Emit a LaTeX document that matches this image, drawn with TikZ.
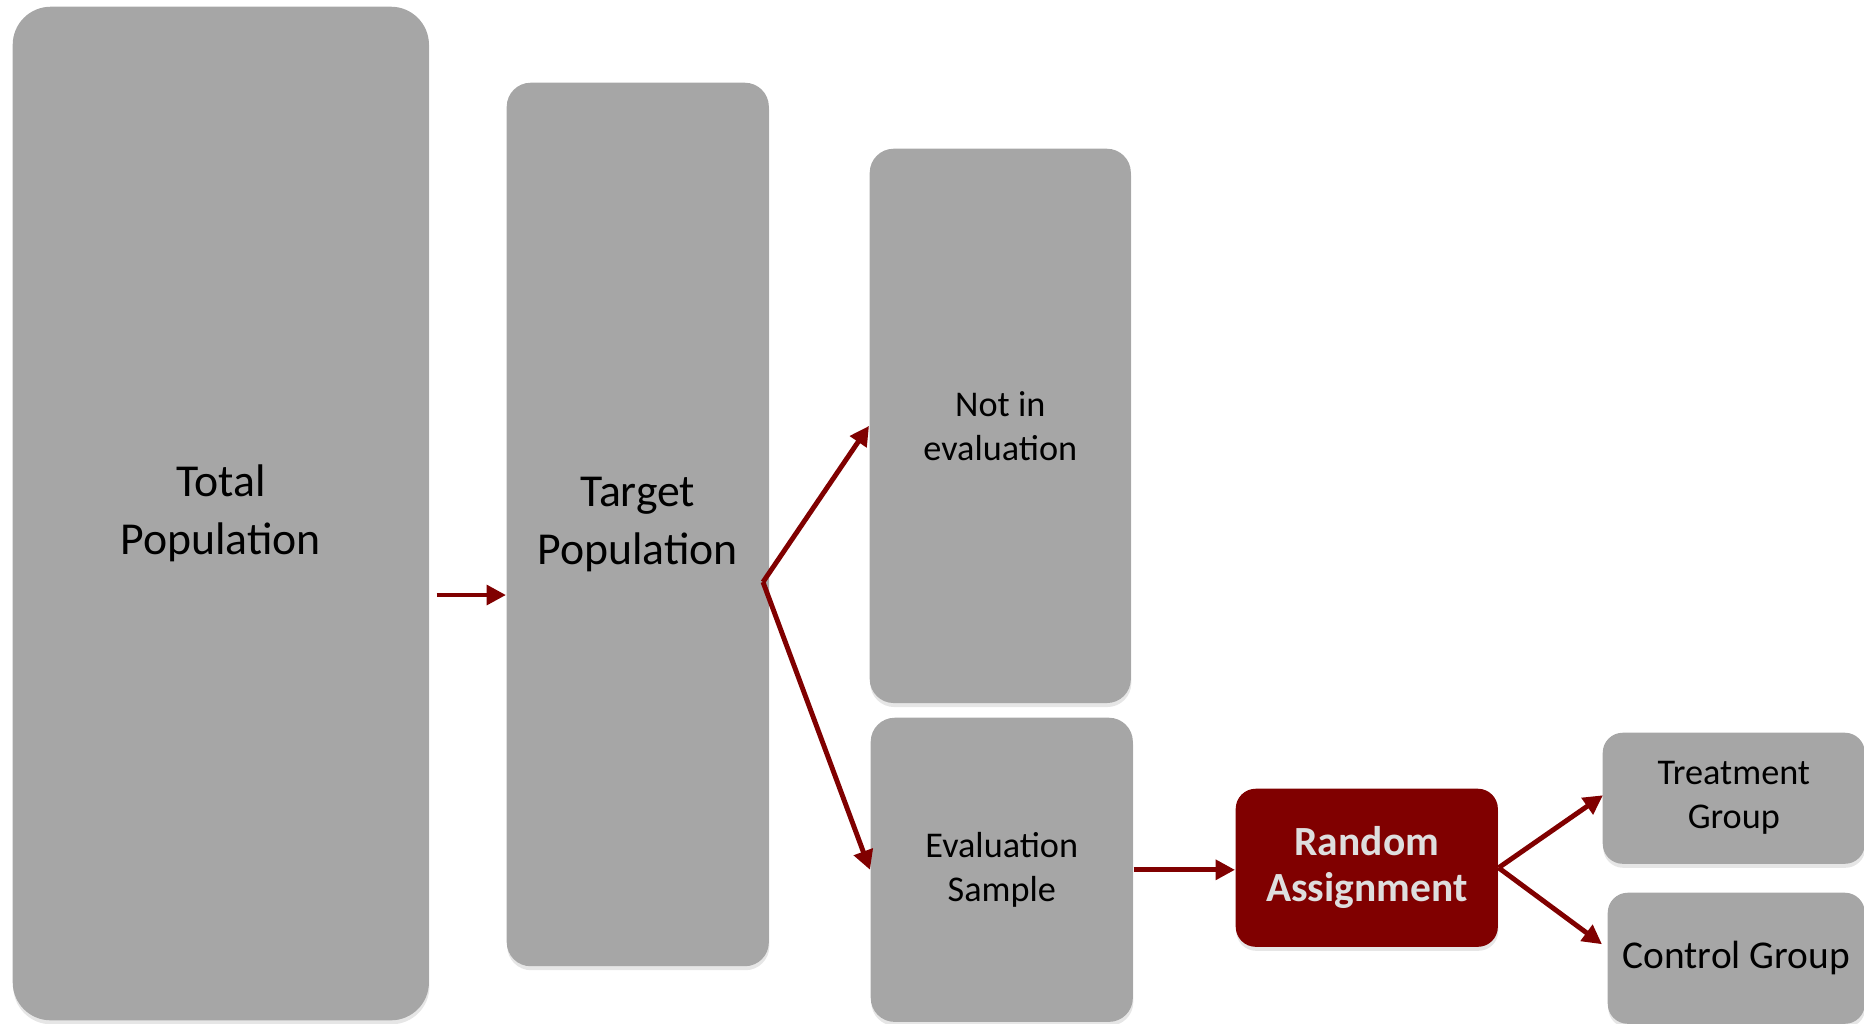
\documentclass[tikz,border=0pt]{standalone}
\usepackage{fontspec}
\setmainfont{Carlito}
\usetikzlibrary{arrows.meta,shadows}
\definecolor{boxgray}{HTML}{A6A6A6}
\definecolor{darkred}{HTML}{800000}
\tikzset{
    box/.style={draw=none, fill=boxgray, rounded corners=0.24cm, anchor=north west,
        align=center, inner sep=0pt, text=black,
        drop shadow={shadow xshift=0.005cm, shadow yshift=-0.04cm, opacity=0.2}},
    big/.style={font=\fontsize{13}{16.5}\selectfont},
    small/.style={font=\fontsize{10.3}{12.5}\selectfont},
    arr/.style={darkred, line width=1.4pt, -{Triangle[length=5.5pt, width=5.5pt]}}
}
\begin{document}
\begin{tikzpicture}[x=0.01cm, y=-0.01cm]
    \useasboundingbox (0, 0) rectangle (1864, 1023);
    \node[box, big, rounded corners=0.38cm, minimum width=4.16cm, minimum height=10.13cm] (tot) at (12, 6) {Total\\Population};
    \node[box, big, minimum width=2.62cm, minimum height=8.83cm] (tgt) at (506, 82) {Target\\Population};
    \node[box, small, minimum width=2.61cm, minimum height=5.54cm] (nie) at (869, 148) {Not in\\evaluation};
    \node[box, small, minimum width=2.62cm, minimum height=3.04cm] (es) at (870, 717) {Evaluation\\Sample};
    \node[box, fill=darkred, text=white!87!black, rounded corners=0.2cm, minimum width=2.62cm, minimum height=1.58cm, font=\fontsize{11.8}{13}\selectfont\bfseries] (rnd) at (1235, 788) {Random\\Assignment};
    \node[box, small, rounded corners=0.2cm, minimum width=2.62cm, minimum height=1.31cm] (trt) at (1602, 732) {Treatment\\Group};
    \node[box, rounded corners=0.2cm, minimum width=2.57cm, minimum height=1.31cm, font=\fontsize{11.2}{13}\selectfont] (ctl) at (1607, 892) {Control Group};
    \coordinate (fork) at (763, 582);
    \draw[arr] ([xshift=0.07cm]tot.east |- 0, 595) -- (tgt.west |- 0, 595);
    \draw[arr] (fork) -- (nie.west);
    \draw[arr] (fork) -- (es.west);
    \draw[arr] (es.east) -- (rnd.west |- es.east);
    \draw[arr] (rnd.east) -- ([xshift=0.01cm, yshift=0.03cm]trt.west);
    \draw[arr] (rnd.east) -- ([xshift=-0.05cm, yshift=0.14cm]ctl.west);
\end{tikzpicture}
\end{document}
